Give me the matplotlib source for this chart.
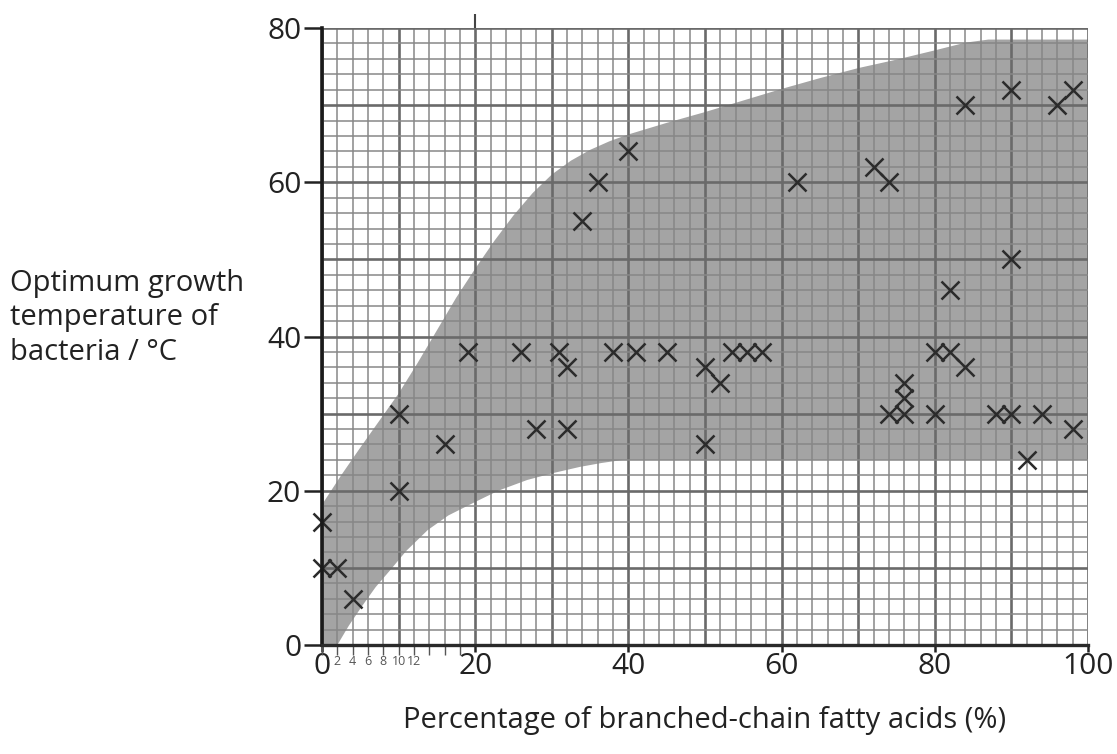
import numpy as np
import matplotlib
matplotlib.use("Agg")
import matplotlib.pyplot as plt

plt.rcParams['font.family'] = ['Open Sans', 'DejaVu Sans']

# ---- data ----
branched_pct = [0, 0, 2, 4, 10, 10, 16, 19, 26, 28, 31, 32, 32, 34, 36, 38, 40, 41, 45,
                50, 50, 52, 53.5, 55.5, 57.5, 62, 72, 74, 74, 76, 76, 76, 80, 80, 82, 82,
                84, 84, 88, 90, 90, 90, 92, 94, 96, 98, 98]
opt_temp = [16, 10, 10, 6, 30, 20, 26, 38, 38, 28, 38, 36, 28, 55, 60, 38, 64, 38, 38,
            36, 26, 34, 38, 38, 38, 60, 62, 60, 30, 34, 32, 30, 38, 30, 38, 46,
            36, 70, 30, 30, 50, 72, 24, 30, 70, 72, 28]

band_upper_x = [0, 2.5, 5, 7.5, 10, 12.5, 15, 17.5, 20, 22.5, 25, 27.5, 30, 32.5, 35, 37.5, 40,
                45, 50, 55, 60, 65, 70, 75, 80, 84, 87, 100]
band_upper_y = [18.2, 22.0, 25.6, 29.1, 32.6, 36.6, 40.8, 45.0, 48.8, 52.4, 55.7, 58.6, 61.0,
                62.8, 64.2, 65.3, 66.2, 67.7, 69.1, 70.6, 72.1, 73.5, 74.8, 75.9, 77.1, 78.1, 78.5, 78.5]
band_lower_x = [0, 2, 3.5, 5.2, 7, 8.9, 11, 13.8, 16.5, 19.7, 23, 26.8, 30.2, 33.7, 36.5, 39.3, 100]
band_lower_y = [0, 0, 2.5, 5.0, 7.5, 9.7, 12.2, 14.9, 16.8, 18.4, 20.0, 21.4, 22.3, 23.1, 23.6, 24, 24]

x_ticks = [0, 20, 40, 60, 80, 100]
y_ticks = [0, 20, 40, 60, 80]
hand_ticks = [0, 2, 4, 6, 8, 10, 12, 14, 16, 18]
hand_labels = ['2', '4', '6', '8', '10', '12']
hand_label_pos = [2, 4, 6, 8, 10, 12]

fig = plt.figure(figsize=(11.17, 7.54), dpi=100)
ax = fig.add_axes([322/1117, 1-645/754, (1088-322)/1117, (645-28)/754])
ax.set_xlim(0, 100)
ax.set_ylim(0, 80)

# shaded band
poly_x = list(band_lower_x) + list(band_upper_x[::-1])
poly_y = list(band_lower_y) + list(band_upper_y[::-1])
ax.fill(poly_x, poly_y, color='#a4a4a4', zorder=1, lw=0)

# graph-paper grid
for v in np.arange(0, 101, 2):
    major = (v % 10 == 0)
    ax.axvline(v, color='#6a6a6a' if major else '#878787', lw=1.9 if major else 1.1, zorder=2)
for v in np.arange(0, 81, 2):
    major = (v % 10 == 0)
    ax.axhline(v, color='#6a6a6a' if major else '#878787', lw=1.9 if major else 1.1, zorder=2)

# crosses
ax.plot(branched_pct, opt_temp, linestyle='none', marker='x', markersize=13,
        markeredgewidth=1.8, color='#2b2b2b', zorder=5, clip_on=False)

for s in ['top', 'right']:
    ax.spines[s].set_visible(False)
ax.spines['left'].set_linewidth(2.6)
ax.spines['left'].set_color('#1a1a1a')
ax.spines['bottom'].set_linewidth(2.4)
ax.spines['bottom'].set_color('#2a2a2a')
ax.spines['left'].set_zorder(6)
ax.spines['bottom'].set_zorder(6)

ax.set_xticks(x_ticks)
ax.set_yticks(y_ticks)
ax.tick_params(axis='y', length=13, width=1.8, pad=2, labelsize=21.5, colors='#222222')
ax.tick_params(axis='x', length=5, width=1.8, pad=0, labelsize=21.5, colors='#222222')

# hand-drawn small ticks and numbers under the axis
ax.vlines(hand_ticks, -1.3, 0, colors='#555555', lw=1.0, clip_on=False, zorder=6)
for p, t in zip(hand_label_pos, hand_labels):
    ax.text(p, -1.3, t, ha='center', va='top', fontsize=9, color='#555555', clip_on=False)
ax.vlines([20], 80, 81.8, colors='#444444', lw=1.5, clip_on=False)

ax.set_xlabel('Percentage of branched-chain fatty acids (%)', fontsize=21, labelpad=18, color='#222222')

fig.text(10/1117, 1-318/754, 'Optimum growth\ntemperature of\nbacteria / °C', ha='left', va='center',
         fontsize=21, linespacing=1.25, color='#222222')

fig.savefig('out.png', dpi=100)
